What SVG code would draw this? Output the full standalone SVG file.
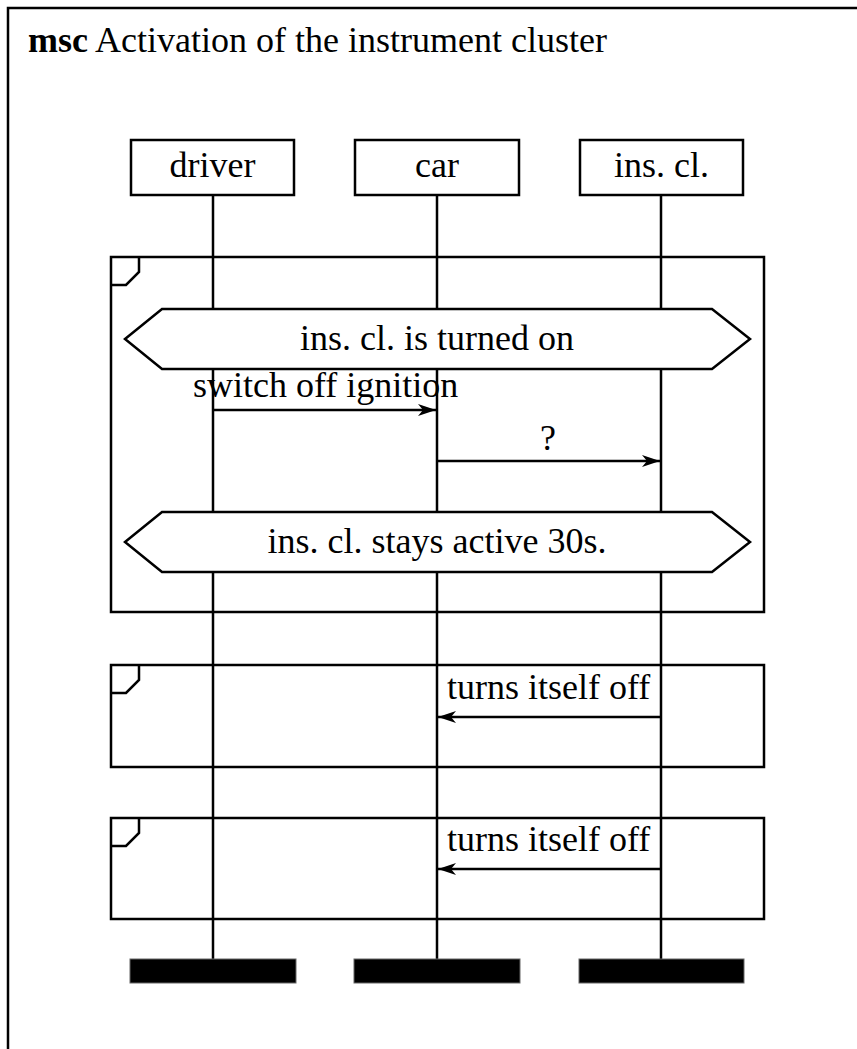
<svg xmlns="http://www.w3.org/2000/svg" width="857" height="1049" viewBox="0 0 857 1049">
<defs>
<style>
.ln{stroke:#000;stroke-width:2.5;fill:none}
.box{stroke:#000;stroke-width:2.5;fill:#fff}
.t{font-family:"Liberation Serif","Times New Roman",serif;font-size:36px;fill:#000}
.c{text-anchor:middle}
.bar{fill:#000;stroke:#666;stroke-width:1}
</style>
<marker id="ah" markerWidth="22" markerHeight="14" refX="20" refY="7" orient="auto" markerUnits="userSpaceOnUse">
<path d="M2,1 L20,7 L2,13 L7,7 Z" fill="#000"/>
</marker>
</defs>
<rect width="857" height="1049" fill="#fff"/>
<path class="ln" d="M8,1049 V8 H857"/>
<text class="t" x="28" y="52"><tspan font-weight="bold">msc</tspan> Activation of the instrument cluster</text>
<g id="lifelines" class="ln">
<line x1="213" y1="195" x2="213" y2="960"/>
<line x1="437" y1="195" x2="437" y2="960"/>
<line x1="661" y1="195" x2="661" y2="960"/>
</g>
<g id="frame1">
<rect x="111" y="257" width="653" height="355" class="ln"/>
<path class="ln" d="M139,257 V272 L126,285 H111"/>
</g>
<g id="frame2">
<rect x="111" y="665" width="653" height="102" class="ln"/>
<path class="ln" d="M139,665 V680 L126,693 H111"/>
</g>
<g id="frame3">
<rect x="111" y="818" width="653" height="101" class="ln"/>
<path class="ln" d="M139,818 V833 L126,846 H111"/>
</g>
<g id="driver">
<rect x="131" y="140" width="163" height="55" class="box"/>
<text class="t c" x="212.5" y="177">driver</text>
</g>
<g id="car">
<rect x="355" y="140" width="164" height="55" class="box"/>
<text class="t c" x="437" y="177">car</text>
</g>
<g id="inscl">
<rect x="580" y="140" width="163" height="55" class="box"/>
<text class="t c" x="661.5" y="177">ins. cl.</text>
</g>
<g id="cond1">
<polygon class="box" points="125,339 162,309 712,309 750,339 712,369 162,369"/>
<text class="t c" x="437" y="350">ins. cl. is turned on</text>
</g>
<g id="cond2">
<polygon class="box" points="125,542 162,512 712,512 750,542 712,572 162,572"/>
<text class="t c" x="437" y="553">ins. cl. stays active 30s.</text>
</g>
<g id="end-driver"><rect class="bar" x="130" y="959" width="166" height="24"/></g>
<g id="end-car"><rect class="bar" x="354" y="959" width="166" height="24"/></g>
<g id="end-inscl"><rect class="bar" x="579" y="959" width="165" height="24"/></g>
<g id="connectors" class="ln">
<line x1="213" y1="410" x2="436" y2="410" marker-end="url(#ah)"/>
<line x1="437" y1="461" x2="660" y2="461" marker-end="url(#ah)"/>
<line x1="661" y1="717" x2="438" y2="717" marker-end="url(#ah)"/>
<line x1="661" y1="869" x2="438" y2="869" marker-end="url(#ah)"/>
</g>
<g id="labels">
<text class="t" x="193" y="397">switch off ignition</text>
<text class="t c" x="548" y="450">?</text>
<text class="t" x="447" y="699">turns itself off</text>
<text class="t" x="447" y="851">turns itself off</text>
</g>
</svg>
